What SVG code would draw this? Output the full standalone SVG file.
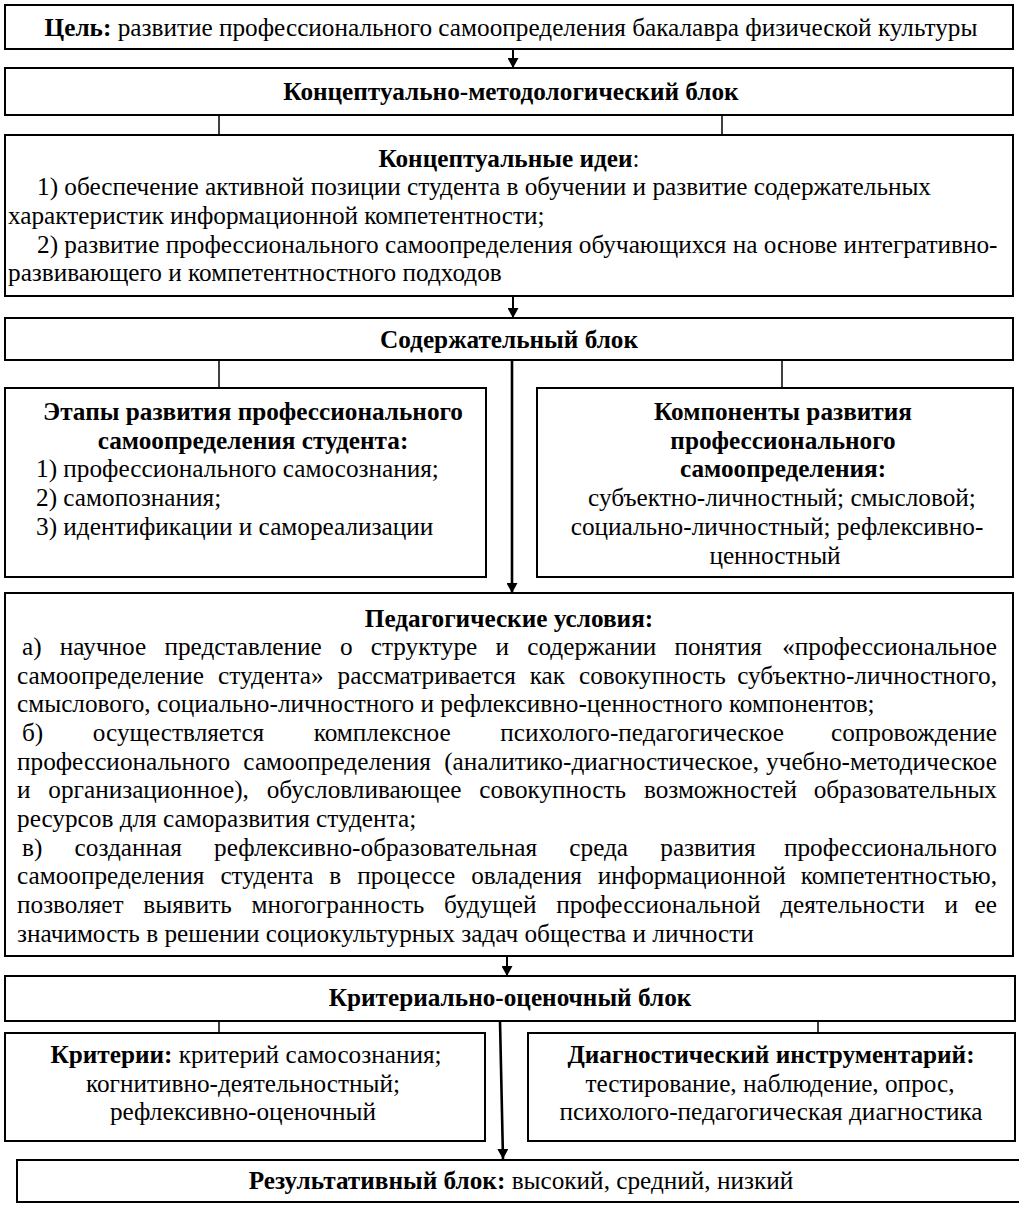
<svg xmlns="http://www.w3.org/2000/svg" width="1019" height="1209" viewBox="0 0 1019 1209">
<style>
.box{fill:#fff;stroke:#000;stroke-width:2}
text{font-family:"Liberation Serif","Times New Roman",serif;font-size:25.25px;fill:#000}
.b{font-weight:bold}
.c{text-anchor:middle}
.e{text-anchor:end}
.conn{stroke:#000;stroke-width:1.5;fill:none}
.arr{stroke:#000;stroke-width:2;fill:none;marker-end:url(#ah)}
.thick{stroke-width:2.6}
</style>
<defs>
<marker id="ah" markerUnits="userSpaceOnUse" markerWidth="11" markerHeight="11" refX="10" refY="5.5" orient="auto">
<path d="M0,0 L10,5.5 L0,11 Z" fill="#000"/>
</marker>
</defs>
<rect width="1019" height="1209" fill="#fff"/>

<g id="connectors">
<line class="arr" x1="513" y1="49" x2="513" y2="68"/>
<line class="conn" x1="219" y1="115" x2="219" y2="135"/>
<line class="conn" x1="722" y1="115" x2="722" y2="135"/>
<line class="arr" x1="513" y1="296" x2="513" y2="318"/>
<line class="conn" x1="219" y1="360" x2="219" y2="388"/>
<line class="conn" x1="782" y1="360" x2="782" y2="388"/>
<line class="arr thick" x1="512" y1="360" x2="512" y2="593"/>
<line class="arr" x1="507" y1="956" x2="507" y2="976"/>
<line class="conn" x1="219" y1="1021" x2="219" y2="1033"/>
<line class="conn" x1="818" y1="1021" x2="818" y2="1033"/>
<line class="arr thick" x1="500" y1="1021" x2="503" y2="1159"/>
</g>

<g id="goal">
<rect class="box" x="5" y="5" width="1008" height="44"/>
<text class="c" x="511" y="36"><tspan class="b">Цель:</tspan> развитие профессионального самоопределения бакалавра физической культуры</text>
</g>

<g id="concept-block">
<rect class="box" x="5" y="68" width="1008" height="47"/>
<text class="c b" x="511" y="99.5">Концептуально-методологический блок</text>
</g>

<g id="concept-ideas">
<rect class="box" x="5" y="135" width="1008" height="161"/>
<text class="c" x="509" y="166.5"><tspan class="b">Концептуальные идеи</tspan>:</text>
<text x="37" y="195.2">1) обеспечение активной позиции студента в обучении и развитие содержательных</text>
<text x="8" y="223.8">характеристик информационной компетентности;</text>
<text x="37" y="252.5">2) развитие профессионального самоопределения обучающихся на основе интегративно-</text>
<text x="8" y="281.1">развивающего и компетентностного подходов</text>
</g>

<g id="content-block">
<rect class="box" x="5" y="318" width="1008" height="42"/>
<text class="c b" x="509" y="347.5">Содержательный блок</text>
</g>

<g id="stages">
<rect class="box" x="5" y="388" width="481" height="189"/>
<text class="c b" x="253" y="420">Этапы развития профессионального</text>
<text class="c b" x="253" y="448.7">самоопределения студента:</text>
<text x="36" y="477.4">1) профессионального самосознания;</text>
<text x="36" y="506">2) самопознания;</text>
<text x="36" y="534.8">3) идентификации и самореализации</text>
</g>

<g id="components">
<rect class="box" x="537" y="388" width="476" height="189"/>
<text class="c b" x="783" y="420">Компоненты развития</text>
<text class="c b" x="783" y="448.7">профессионального</text>
<text class="c b" x="783" y="477.4">самоопределения:</text>
<text class="c" x="782" y="506">субъектно-личностный; смысловой;</text>
<text class="c" x="777" y="534.8">социально-личностный; рефлексивно-</text>
<text class="c" x="775" y="563.5">ценностный</text>
</g>

<g id="conditions">
<rect class="box" x="5" y="593" width="1008" height="363"/>
<text class="c b" x="509" y="626.5">Педагогические условия:</text>
<text x="22" y="655.1" word-spacing="11.9">а) научное представление о структуре и содержании понятия</text>
<text class="e" x="997" y="655.1">«профессиональное</text>
<text x="17" y="683.8" word-spacing="7.6">самоопределение студента» рассматривается как совокупность</text>
<text class="e" x="997" y="683.8">субъектно-личностного,</text>
<text x="17" y="712.4">смыслового, социально-личностного и рефлексивно-ценностного компонентов;</text>
<text x="22" y="741.1" word-spacing="43.2">б) осуществляется комплексное психолого-педагогическое</text>
<text class="e" x="997" y="741.1">сопровождение</text>
<text x="17" y="769.7" word-spacing="7">профессионального самоопределения (аналитико-диагностическое,</text>
<text class="e" x="997" y="769.7">учебно-методическое</text>
<text x="17" y="798.4" word-spacing="11.5">и организационное), обусловливающее совокупность возможностей</text>
<text class="e" x="997" y="798.4">образовательных</text>
<text x="17" y="827">ресурсов для саморазвития студента;</text>
<text x="22" y="855.7" word-spacing="25.9">в) созданная рефлексивно-образовательная среда развития</text>
<text class="e" x="997" y="855.7">профессионального</text>
<text x="17" y="884.3" word-spacing="9.6">самоопределения студента в процессе овладения информационной</text>
<text class="e" x="997" y="884.3">компетентностью,</text>
<text x="17" y="913" word-spacing="13.4">позволяет выявить многогранность будущей профессиональной деятельности и</text>
<text class="e" x="997" y="913">ее</text>
<text x="17" y="941.6">значимость в решении социокультурных задач общества и личности</text>
</g>

<g id="criteria-block">
<rect class="box" x="5" y="976" width="1010" height="45"/>
<text class="c b" x="510" y="1006">Критериально-оценочный блок</text>
</g>

<g id="criteria">
<rect class="box" x="5" y="1033" width="480" height="108"/>
<text class="c" x="246" y="1063"><tspan class="b">Критерии:</tspan> критерий самосознания;</text>
<text class="c" x="243" y="1091.7">когнитивно-деятельностный;</text>
<text class="c" x="243" y="1120.3">рефлексивно-оценочный</text>
</g>

<g id="diagnostics">
<rect class="box" x="528" y="1033" width="487" height="108"/>
<text class="c b" x="771" y="1063">Диагностический инструментарий:</text>
<text class="c" x="770" y="1091.7">тестирование, наблюдение, опрос,</text>
<text class="c" x="771" y="1120.3">психолого-педагогическая диагностика</text>
</g>

<g id="result">
<rect class="box" x="17" y="1160" width="1012" height="42"/>
<text class="c" x="521" y="1189"><tspan class="b">Результативный блок:</tspan> высокий, средний, низкий</text>
</g>
</svg>
